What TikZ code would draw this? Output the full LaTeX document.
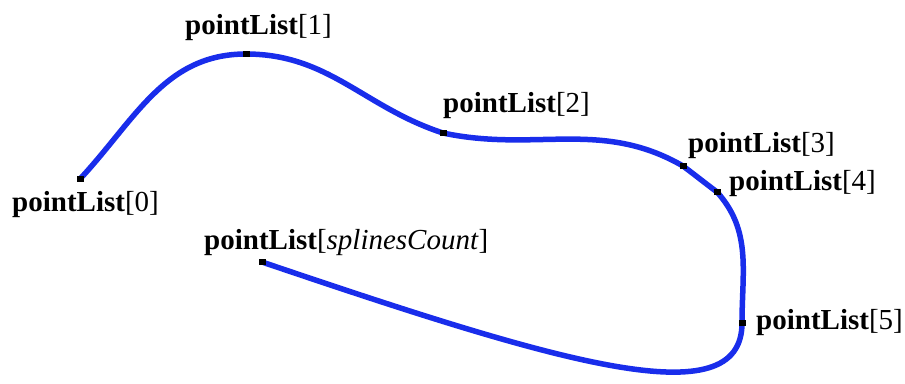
\documentclass[tikz,border=0pt]{standalone}
\usepackage{fontspec}
\setmainfont{Liberation Serif}
\definecolor{splineblue}{RGB}{25,45,235}
\tikzset{
  knot/.style   = {rectangle, fill=black, minimum width=7pt, minimum height=6pt, inner sep=0},
  spline/.style = {line width=5.5pt, splineblue},
  et/.style     = {font=\fontsize{29}{32}\selectfont, inner sep=0, anchor=base west}
}
\begin{document}
\begin{tikzpicture}[x=1pt,y=1pt]
  \useasboundingbox (0,0) rectangle (905,383);
  % control points of the spline
  \coordinate (p0) at ( 80,204);
  \coordinate (p1) at (246,329);
  \coordinate (p2) at (443,250);
  \coordinate (p3) at (683,217);
  \coordinate (p4) at (717,191);
  \coordinate (p5) at (742, 60);
  \coordinate (pe) at (262,121);
  \draw[spline] (p0) to[out=47,in=180] (p1) to[out=0,in=162] (p2)
    to[out=-12,in=150] (p3) to[out=-37,in=143] (p4) to[out=-48,in=90] (p5)
    .. controls +(0,-95) and +(298,-101) .. (pe);
  \foreach \k in {p0,p1,p2,p3,p4,p5,pe} \node[knot] (k\k) at (\k) {};
  % labels
  \node[et] (l0) at ( 12,171) {\textbf{pointList}[0]};
  \node[et] (l1) at (185,348) {\textbf{pointList}[1]};
  \node[et] (l2) at (443,270) {\textbf{pointList}[2]};
  \node[et] (l3) at (688,230) {\textbf{pointList}[3]};
  \node[et] (l4) at (729,192) {\textbf{pointList}[4]};
  \node[et] (l5) at (756, 53) {\textbf{pointList}[5]};
  \node[et] (ls) at (204,133) {\textbf{pointList}[\textit{splinesCount}]};
\end{tikzpicture}
\end{document}
